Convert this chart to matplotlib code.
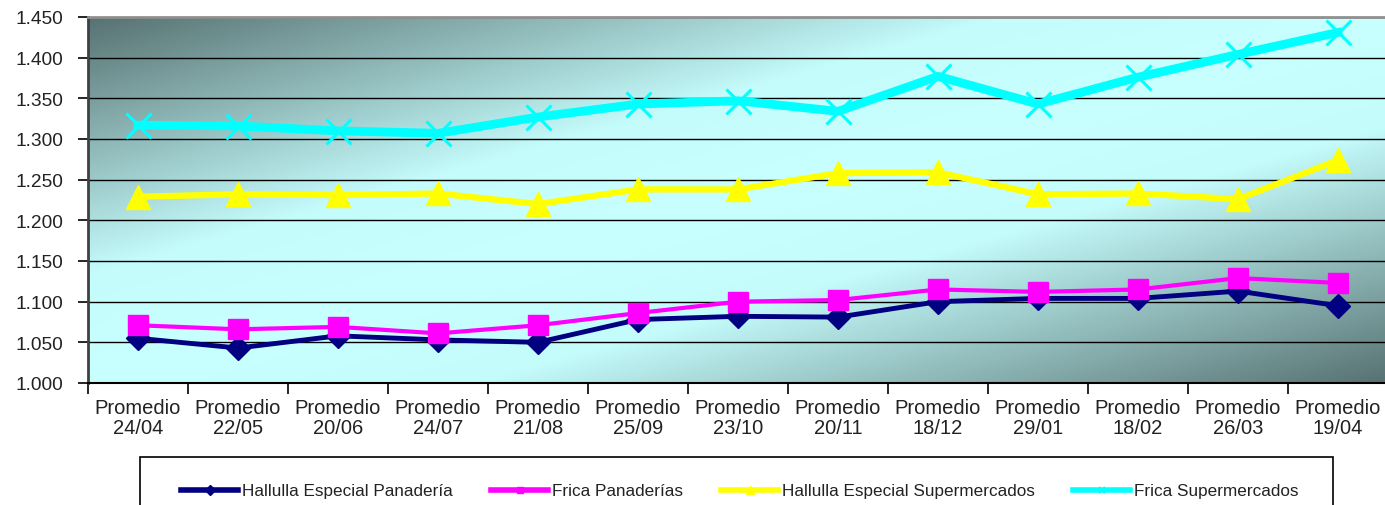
import numpy as np
import matplotlib
matplotlib.use("Agg")
import matplotlib.pyplot as plt
from matplotlib.colors import LinearSegmentedColormap
from matplotlib.lines import Line2D
from matplotlib.patches import Rectangle
from matplotlib.ticker import FuncFormatter, FixedLocator

plt.rcParams['font.family'] = ['Liberation Sans', 'DejaVu Sans']

categories = ["Promedio\n24/04", "Promedio\n22/05", "Promedio\n20/06", "Promedio\n24/07",
              "Promedio\n21/08", "Promedio\n25/09", "Promedio\n23/10", "Promedio\n20/11",
              "Promedio\n18/12", "Promedio\n29/01", "Promedio\n18/02", "Promedio\n26/03",
              "Promedio\n19/04"]
hallulla_panaderia = [1055, 1043, 1058, 1053, 1050, 1078, 1082, 1081, 1100, 1104, 1104, 1113, 1095]
frica_panaderias = [1071, 1066, 1069, 1061, 1071, 1086, 1100, 1102, 1115, 1112, 1115, 1129, 1123]
hallulla_super = [1229, 1232, 1231, 1233, 1220, 1238, 1238, 1258, 1259, 1232, 1233, 1226, 1274]
frica_super = [1317, 1316, 1310, 1307, 1327, 1343, 1347, 1334, 1377, 1343, 1376, 1404, 1431]
series_names = ["Hallulla Especial Panadería", "Frica Panaderías",
                "Hallulla Especial Supermercados", "Frica Supermercados"]

W, H = 1385, 506
fig = plt.figure(figsize=(W / 100, H / 100), dpi=100)
ax = fig.add_axes([88 / W, 122 / H, 1300 / W, 366 / H])

# gradient background
nx, ny = 400, 200
u = np.linspace(0, 1, nx)
v = np.linspace(1, 0, ny)
U, V = np.meshgrid(u, v)
T = np.abs(U - V)
cmap = LinearSegmentedColormap.from_list("bg", [(0, "#c8ffff"), (0.3, "#c4fbfb"), (1.0, "#587272")])
ax.imshow(T, cmap=cmap, vmin=0, vmax=1, extent=[0, 1, 0, 1], transform=ax.transAxes,
          aspect='auto', zorder=0, interpolation='bilinear')

x = np.arange(len(categories))
ax.plot(x, hallulla_panaderia, color="#000080", lw=3.5, marker='D', ms=12, zorder=3)
ax.plot(x, frica_panaderias, color="#ff00ff", lw=3.0, marker='s', ms=14, zorder=4)
ax.plot(x, hallulla_super, color="#ffff00", lw=4.5, marker='^', ms=17, zorder=5)
ax.plot(x, frica_super, color="#00ffff", lw=6.3, marker='x', ms=18, mew=2.2, zorder=6)

ax.set_xlim(-0.5, len(categories) - 0.5)
ax.set_ylim(1000, 1450)
yt = np.arange(1000, 1451, 50)
ax.set_yticks(yt)
ax.yaxis.set_major_formatter(FuncFormatter(lambda v, p: f"{v/1000:.3f}"))
for yv in yt[1:]:
    ax.axhline(yv, color="black", lw=1.0, zorder=1)

ax.xaxis.set_major_locator(FixedLocator(np.arange(-0.5, len(categories), 1.0)))
ax.xaxis.set_minor_locator(FixedLocator(x))
ax.xaxis.set_major_formatter(FuncFormatter(lambda v, p: ""))
ax.set_xticks(x, categories, minor=True)
ax.tick_params(axis='x', which='major', length=8, width=1.2, color='black', direction='out')
ax.tick_params(axis='x', which='minor', length=0, pad=11, labelsize=14.5, labelcolor='#222222')
ax.tick_params(axis='y', length=7, width=1.2, direction='out', labelsize=13.8, labelcolor='#222222', pad=11)
for lab in ax.get_xticklabels(minor=True):
    lab.set_linespacing(1.05)

ax.spines['left'].set_color('#404040')
ax.spines['left'].set_linewidth(2)
ax.spines['bottom'].set_color('black')
ax.spines['bottom'].set_linewidth(1.5)
ax.spines['top'].set_color('#909090')
ax.spines['top'].set_linewidth(2)
ax.spines['right'].set_visible(False)

# legend box
rect = Rectangle((140 / W, -20 / H), 1193 / W, 68 / H, transform=fig.transFigure,
                 facecolor='white', edgecolor='black', lw=1.2, clip_on=False, zorder=0)
fig.patches.append(rect)
handles = [
    Line2D([], [], color="#000080", lw=4, marker='D', ms=5),
    Line2D([], [], color="#ff00ff", lw=4, marker='s', ms=5),
    Line2D([], [], color="#ffff00", lw=4, marker='^', ms=6),
    Line2D([], [], color="#00ffff", lw=4, marker='x', ms=5, mew=1.5),
]
fig.legend(handles, series_names, loc='center', bbox_to_anchor=(740 / W, 14 / H), ncol=4,
           frameon=False, fontsize=12.3, handlelength=3.3, handletextpad=0.25,
           columnspacing=2.25, labelcolor='#222222')

fig.savefig("out.png", dpi=100)
